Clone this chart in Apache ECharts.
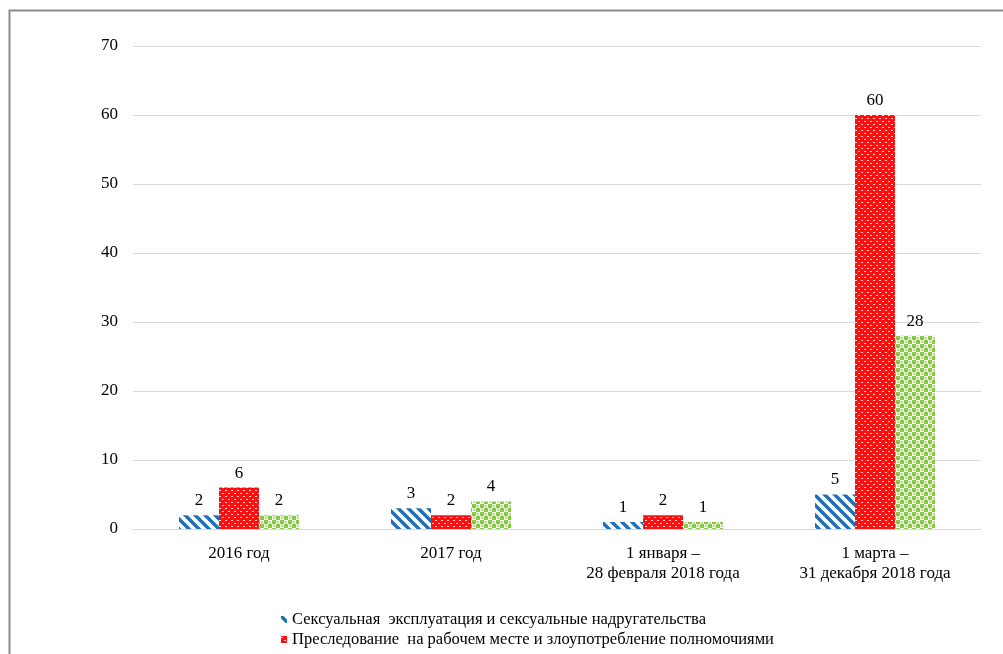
<!DOCTYPE html>
<html><head><meta charset="utf-8">
<script src="https://cdn.jsdelivr.net/npm/echarts@6/dist/echarts.min.js"></script>
<style>html,body{margin:0;padding:0;background:#fff}#c{width:1003px;height:654px}</style>
</head><body><div id="c"></div>
<script>
const categories = ['2016 год', '2017 год', '1 января –\n28 февраля 2018 года', '1 марта –\n31 декабря 2018 года'];
const seriesNames = ['Сексуальная  эксплуатация и сексуальные надругательства', 'Преследование  на рабочем месте и злоупотребление полномочиями', 'Сексуальные домогательства'];
const sea = [2, 3, 1, 5];
const harassmentWork = [6, 2, 2, 60];
const sexualHarassment = [2, 4, 1, 28];
const yTicks = [0, 10, 20, 30, 40, 50, 60, 70];

function mk(w, h, draw) { const c = document.createElement('canvas'); c.width = w; c.height = h; const x = c.getContext('2d'); draw(x); return c; }
const bluePat = mk(10, 10, x => {
  x.fillStyle = '#fff'; x.fillRect(0, 0, 10, 10);
  x.strokeStyle = '#1f6fb8'; x.lineWidth = 3.4;
  x.beginPath(); x.moveTo(-2, -2); x.lineTo(12, 12); x.moveTo(-2, 8); x.lineTo(2, 12); x.moveTo(8, -2); x.lineTo(12, 2); x.stroke();
});
const redPat = mk(6, 6, x => {
  x.fillStyle = '#ff1010'; x.fillRect(0, 0, 6, 6);
  x.fillStyle = '#ffd8d8'; x.fillRect(0, 1, 2, 1); x.fillRect(3, 4, 2, 1);
});
const greenPat = mk(8, 8, x => {
  x.fillStyle = '#fff'; x.fillRect(0, 0, 8, 8);
  x.fillStyle = '#86c843';
  x.beginPath(); x.arc(2, 2, 2.4, 0, Math.PI * 2); x.fill();
  x.beginPath(); x.arc(6, 6, 2.4, 0, Math.PI * 2); x.fill();
  x.fillStyle = '#b9e290'; x.fillRect(5, 1, 2, 2); x.fillRect(1, 5, 2, 2);
});
const pats = [bluePat, redPat, greenPat];
const datas = [sea, harassmentWork, sexualHarassment];
const font = '"Liberation Serif", "Times New Roman", serif';
const legendBase = {
  orient: 'vertical', left: 276, height: 200, itemGap: 3, itemWidth: 6, itemHeight: 7, icon: 'rect',
  textStyle: { fontFamily: font, fontSize: 16.5, color: '#000', lineHeight: 17 }
};

const chart = echarts.init(document.getElementById('c'), null, { renderer: 'canvas' });
chart.setOption({
  animation: false,
  backgroundColor: '#fff',
  textStyle: { fontFamily: font },
  graphic: [{ type: 'rect', shape: { x: 9.5, y: 10.5, width: 1100, height: 700 }, style: { fill: 'none', stroke: '#8c8c8c', lineWidth: 2 }, silent: true }],
  grid: { left: 133, right: 22, top: 46, bottom: 125 },
  legend: [
    Object.assign({}, legendBase, { top: 606, data: seriesNames.slice(0, 2) }),
    Object.assign({}, legendBase, { top: 662, data: seriesNames.slice(2) })
  ],
  xAxis: {
    type: 'category', data: categories,
    axisLine: { lineStyle: { color: '#d9d9d9', width: 1 } }, axisTick: { show: false },
    axisLabel: { fontFamily: font, fontSize: 17, color: '#000', lineHeight: 20, margin: 15, interval: 0 }
  },
  yAxis: {
    type: 'value', min: 0, max: 70, interval: 10,
    axisLine: { show: false }, axisTick: { show: false },
    splitLine: { lineStyle: { color: '#d9d9d9', width: 1 } },
    axisLabel: { fontFamily: font, fontSize: 17, color: '#000', margin: 15, formatter: v => yTicks.includes(v) ? String(v) : '' }
  },
  series: datas.map((d, i) => ({
    name: seriesNames[i], type: 'bar', data: d, barWidth: 40, barGap: '0%',
    itemStyle: { color: { image: pats[i], repeat: 'repeat' } },
    label: { show: true, position: 'top', distance: 6, fontFamily: font, fontSize: 17, color: '#000' }
  }))
});
</script></body></html>
